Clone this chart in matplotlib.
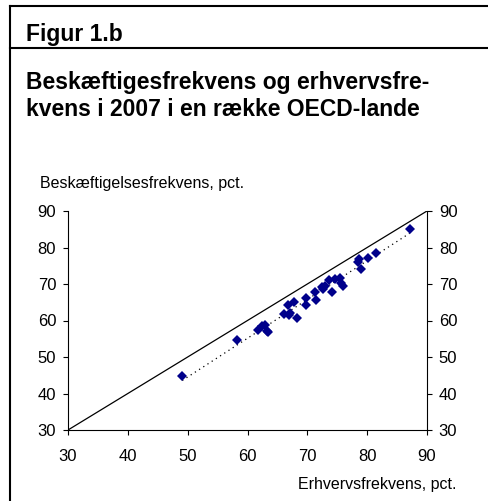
import matplotlib.pyplot as plt
import numpy as np
from matplotlib.lines import Line2D

plt.rcParams['font.family'] = ['Liberation Sans', 'DejaVu Sans']

# erhvervsfrekvens (x) og beskaeftigelsesfrekvens (y), pct.
erhverv = [49.1, 58.3, 61.8, 62.4, 63.0, 63.3, 63.4, 66.1, 66.8, 66.95, 67.1,
           67.8, 68.2, 69.8, 69.8, 71.3, 71.4, 72.5, 72.6, 72.9, 73.7, 74.1,
           74.6, 75.5, 75.6, 75.9, 78.4, 78.6, 79.0, 80.1, 81.5, 87.1]
beskaeft = [44.8, 54.6, 57.4, 58.5, 58.9, 57.1, 56.9, 61.8, 64.2, 61.5, 62.0,
            65.0, 60.7, 66.1, 64.3, 67.8, 65.6, 69.3, 68.5, 69.5, 71.0, 67.7,
            71.5, 71.6, 70.4, 69.5, 75.9, 76.8, 74.1, 77.0, 78.6, 85.2]
ticks = [30, 40, 50, 60, 70, 80, 90]

W, H = 488, 501
fig = plt.figure(figsize=(W/100, H/100), dpi=100)

def px(x, y):
    return x/W, 1 - y/H

# ramme
fig.add_artist(Line2D([10/W, 1], [1-6/H, 1-6/H], color='black', lw=1.5))
fig.add_artist(Line2D([10/W, 1], [1-48/H, 1-48/H], color='black', lw=1.5))
fig.add_artist(Line2D([10/W, 10/W], [0, 1-6/H], color='black', lw=1.5))

fig.text(*px(26, 35), 'Figur 1.b', fontsize=16.5, fontweight='bold', va='center')
fig.text(*px(26, 83), 'Beskæftigesfrekvens og erhvervsfre-', fontsize=16.5,
         fontweight='bold', va='center')
fig.text(*px(26, 109), 'kvens i 2007 i en række OECD-lande', fontsize=16.5,
         fontweight='bold', va='center')
fig.text(*px(40, 184), 'Beskæftigelsesfrekvens, pct.', fontsize=11.5, va='center')
fig.text(*px(457, 484), 'Erhvervsfrekvens, pct.', fontsize=11.5, va='center', ha='right')

ax = fig.add_axes([68/W, 1-430/H, (427-68)/W, (430-211)/H])
ax.plot([30, 90], [30, 90], color='black', lw=0.9)
x = np.array(erhverv)
y = np.array(beskaeft)
a, b = np.polyfit(x, y, 1)
xs = np.array([x.min(), x.max()])
ax.plot(xs, a*xs + b, color='black', lw=0.9, linestyle=(0, (1, 3)))
ax.plot(x, y, linestyle='none', marker='D', markersize=5, color='#00008b',
        markeredgewidth=0)

ax.set_xlim(30, 90)
ax.set_ylim(30, 90)
ax.set_xticks(ticks)
ax.set_yticks(ticks)
ax.spines['top'].set_visible(False)
for s in ['left', 'right', 'bottom']:
    ax.spines[s].set_linewidth(0.8)
ax.tick_params(axis='both', direction='out', length=3.5, width=0.8, labelsize=12)
ax.tick_params(axis='y', right=True, labelright=True, pad=5)
ax.tick_params(axis='x', pad=10)

fig.savefig('out.png', dpi=100)
